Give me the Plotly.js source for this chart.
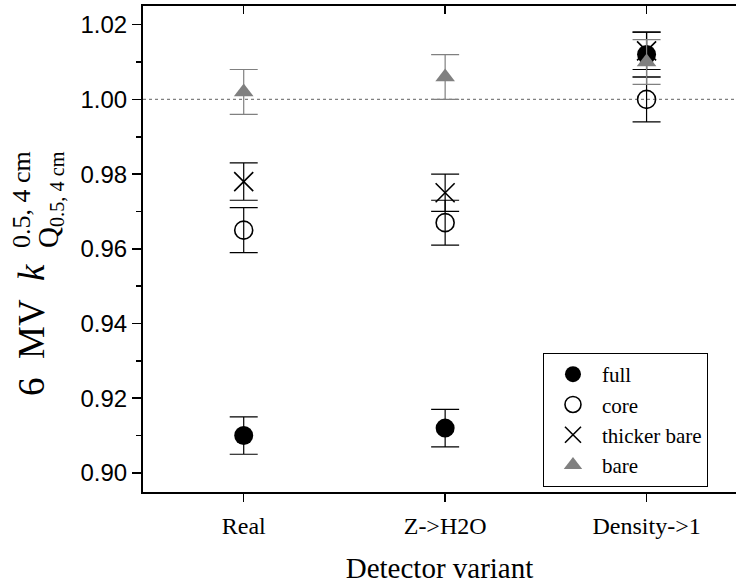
<!DOCTYPE html>
<html>
<head>
<meta charset="utf-8">
<script src="https://cdn.plot.ly/plotly-3.0.1.min.js"></script>
<style>html,body{margin:0;padding:0;background:#fff;}#chart{width:736px;height:587px;}</style>
</head>
<body>
<div id="chart"></div>
<script>
// Data
const categories = ["Real", "Z->H2O", "Density->1"];
const seriesNames = ["full", "core", "thicker bare", "bare"];
const fullVals = [0.910, 0.912, 1.012];
const fullErr = [0.005, 0.005, 0.006];
const coreVals = [0.965, 0.967, 1.000];
const coreErr = [0.006, 0.006, 0.006];
const thickVals = [0.978, 0.975, 1.013];
const thickErr = [0.005, 0.005, 0.005];
const bareVals = [1.002, 1.006, 1.010];
const bareErr = [0.006, 0.006, 0.006];
const yTickVals = [0.90, 0.92, 0.94, 0.96, 0.98, 1.00, 1.02];

const serif = "Liberation Serif, Times New Roman, serif";
const sans = "Liberation Sans, Arial, sans-serif";

function trace(name, y, err, marker, ecolor) {
  return {
    type: "scatter", mode: "markers", name: name,
    x: categories, y: y,
    marker: marker,
    error_y: {type: "data", array: err, visible: true, color: ecolor, thickness: 1.2, width: 14},
    cliponaxis: false
  };
}

const data = [
  trace(seriesNames[0], fullVals, fullErr, {symbol: "circle", size: 19, color: "#000000"}, "#000000"),
  trace(seriesNames[1], coreVals, coreErr, {symbol: "circle-open", size: 18, color: "#000000", line: {width: 1.6, color: "#000000"}}, "#000000"),
  trace(seriesNames[2], thickVals, thickErr, {symbol: "x-thin-open", size: 19, color: "#000000", line: {width: 1.6, color: "#000000"}}, "#000000"),
  trace(seriesNames[3], bareVals, bareErr, {symbol: "triangle-up", size: 17, color: "#808080"}, "#808080")
];
// invisible trace carrying the top axis ticks
data.push({type: "scatter", mode: "markers", x: categories, y: [null, null, null], xaxis: "x2", showlegend: false, hoverinfo: "skip"});

const layout = {
  width: 736, height: 587,
  margin: {l: 143, r: 0, t: 6, b: 95},
  paper_bgcolor: "#ffffff", plot_bgcolor: "#ffffff",
  font: {family: serif, size: 21, color: "#000000"},
  showlegend: true,
  legend: {
    x: 0.6745, y: (492 - 353) / 486, xanchor: "left", yanchor: "top",
    bordercolor: "#000000", borderwidth: 1, bgcolor: "#ffffff",
    font: {family: serif, size: 21, color: "#000000"},
    itemwidth: 48,
    entrywidth: 186, entrywidthmode: "pixels",
    tracegroupgap: 0
  },
  xaxis: {
    type: "category", range: [-0.5, 2.444],
    showline: true, linecolor: "#000000", linewidth: 2,
    ticks: "outside", ticklen: 8, tickwidth: 1.5, tickcolor: "#000000",
    ticklabelstandoff: 3,
    showgrid: false, zeroline: false,
    tickfont: {family: serif, size: 24, color: "#000000"},
    title: {text: "Detector variant", font: {family: serif, size: 29, color: "#000000"}, standoff: 20}
  },
  xaxis2: {
    type: "category", range: [-0.5, 2.444], overlaying: "x", side: "top", matches: "x",
    showline: true, linecolor: "#000000", linewidth: 2,
    ticks: "inside", ticklen: 8, tickwidth: 1.5, tickcolor: "#000000",
    showticklabels: false, showgrid: false, zeroline: false
  },
  yaxis: {
    range: [0.8949, 1.025],
    tickvals: yTickVals, tickformat: ".2f",
    showline: true, linecolor: "#000000", linewidth: 2,
    ticks: "outside", ticklen: 9, tickwidth: 1.5, tickcolor: "#000000",
    minor: {dtick: 0.01, ticks: "outside", ticklen: 5, tickwidth: 1.5, tickcolor: "#000000", showgrid: false},
    showgrid: false, zeroline: false,
    tickfont: {family: sans, size: 24, color: "#000000"}
  },
  shapes: [{
    type: "line", xref: "paper", x0: 0, x1: 1, yref: "y", y0: 1.0, y1: 1.0,
    line: {color: "#808080", width: 1.3, dash: "dot"}, layer: "below"
  }],
  annotations: [
    {xref: "paper", yref: "paper", x: 0, y: (492 - 330) / 486, xshift: -112, xanchor: "center", yanchor: "middle",
     textangle: -90, showarrow: false, text: "6&nbsp;&nbsp;MV&nbsp;&nbsp;<i>k</i>",
     font: {family: serif, size: 37, color: "#000000"}},
    {xref: "paper", yref: "paper", x: 0, y: (492 - 200) / 486, xshift: -121, xanchor: "center", yanchor: "middle",
     textangle: -90, showarrow: false, text: "0.5, 4 cm",
     font: {family: serif, size: 26, color: "#000000"}},
    {xref: "paper", yref: "paper", x: 0, y: (492 - 200) / 486, xshift: -93, xanchor: "center", yanchor: "middle",
     textangle: -90, showarrow: false, text: "Q<sub>0.5, 4 cm</sub>",
     font: {family: serif, size: 29, color: "#000000"}}
  ]
};

Plotly.newPlot("chart", data, layout, {staticPlot: true, displayModeBar: false});
</script>
</body>
</html>
